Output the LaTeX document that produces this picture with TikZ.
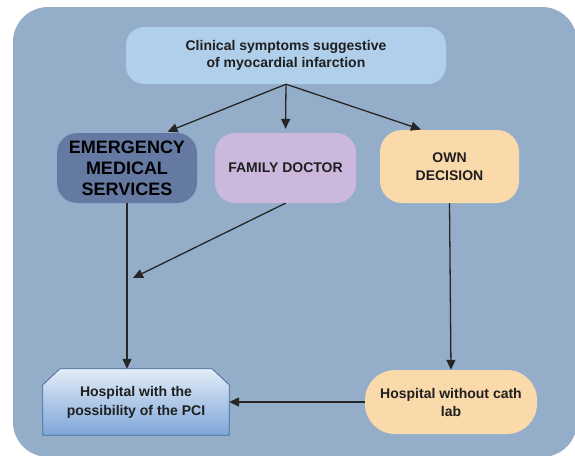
\documentclass[tikz,border=0pt]{standalone}
\usepackage{fontspec}
\setmainfont{Liberation Sans}
\usetikzlibrary{arrows.meta,backgrounds}
\definecolor{panel}{HTML}{94AECA}
\definecolor{symptom}{HTML}{B0CFEA}
\definecolor{ems}{HTML}{647AA3}
\definecolor{family}{HTML}{CBB8DC}
\definecolor{peach}{HTML}{FAD9AA}
\definecolor{pcitop}{HTML}{E3EDF7}
\definecolor{pcibottom}{HTML}{7DA5D9}
\definecolor{pciedge}{HTML}{4A6A9A}
\begin{document}
\begin{tikzpicture}[x=1pt,y=-1pt,
  box/.style={rounded corners=20pt,align=center,inner sep=2pt,text=black!88,
    font=\fontsize{14}{18}\selectfont\bfseries},
  arr/.style={-{Triangle[length=10pt,width=9pt]},line width=1.3pt,draw=black!85}]
  \useasboundingbox (0,0) rectangle (575,455);
  \node[box,fill=symptom,minimum width=320pt,minimum height=57pt,rounded corners=18pt,
    font=\fontsize{14}{17}\selectfont\bfseries] (symptoms) at (286,55.5)
    {Clinical symptoms suggestive\\of myocardial infarction};
  \node[box,fill=ems,minimum width=140pt,minimum height=70pt,text=black,
    font=\fontsize{18}{21}\selectfont\bfseries] (ems) at (127,168)
    {EMERGENCY\\MEDICAL\\SERVICES};
  \node[box,fill=family,minimum width=141pt,minimum height=70pt] (family) at (285.5,168) {FAMILY DOCTOR};
  \node[box,fill=peach,minimum width=139pt,minimum height=73pt,rounded corners=22pt] (own) at (449.5,166.5) {OWN\\DECISION};
  \node[box,rounded corners=0pt,minimum width=186pt,minimum height=66pt,
    font=\fontsize{14}{19}\selectfont\bfseries] (pci) at (136,402)
    {Hospital with the\\possibility of the PCI};
  \node[box,fill=peach,minimum width=172pt,minimum height=64pt,rounded corners=30pt] (nocath) at (451,402)
    {Hospital without cath\\lab};
  \begin{scope}[on background layer]
    \fill[panel,rounded corners=35pt] (13,7) rectangle (577,457);
    \path[draw=pciedge,line width=0.8pt,top color=pcitop,bottom color=pcibottom]
      (pci.south west) -- ([yshift=-16pt]pci.north west) -- ([xshift=17pt]pci.north west)
      -- ([xshift=-17pt]pci.north east) -- ([yshift=-16pt]pci.north east) -- (pci.south east) -- cycle;
  \end{scope}
  \coordinate (join) at (133,278);
  \draw[arr,shorten >=3pt] (symptoms.south) -- (ems.43);
  \draw[arr,shorten >=4pt] (symptoms.south) -- (family.north);
  \draw[arr,shorten >=1pt] (symptoms.south) -- (own.127);
  \draw[arr] (ems.south) -- (ems.south |- pci.north);
  \draw[arr] (family.south) -- (join);
  \draw[arr] (own.south) -- (nocath.north);
  \draw[arr] (nocath.west) -- (pci.east);
\end{tikzpicture}
\end{document}
